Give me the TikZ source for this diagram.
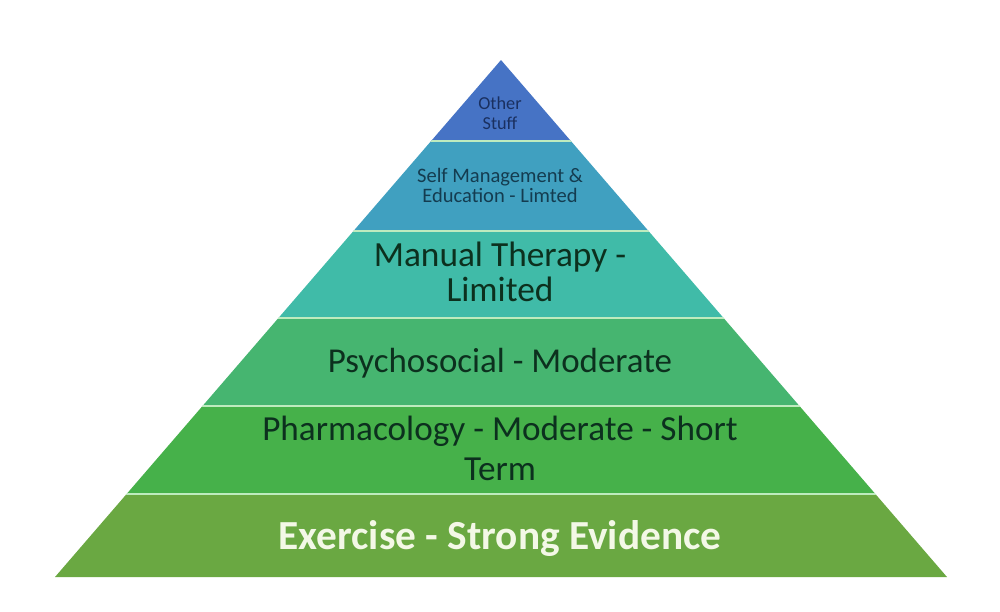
\documentclass[tikz,border=0pt]{standalone}
\usepackage{fontspec}
\setmainfont{Carlito}
\usepackage{tikz}

\definecolor{otherblue}{RGB}{70,115,197}
\definecolor{selfteal}{RGB}{64,160,192}
\definecolor{manualteal}{RGB}{64,187,168}
\definecolor{psychogreen}{RGB}{70,181,112}
\definecolor{pharmagreen}{RGB}{70,177,74}
\definecolor{exercisegreen}{RGB}{106,168,66}
\definecolor{darktext}{RGB}{12,48,30}
\definecolor{navytext}{RGB}{26,48,96}

\tikzset{
  band/.style={draw=none},
  sep/.style={draw={rgb,255:red,190;green,235;blue,190}, line width=2.2pt},
  label/.style={align=center, inner sep=0pt, text=darktext},
}

\begin{document}
\begin{tikzpicture}[x=0.75pt,y=0.75pt,yscale=-1,xscale=1]
\useasboundingbox (0,0) rectangle (1000,611);

\begin{scope}
% Shape: Triangle outline as clip
\clip (501,60) -- (947,577) -- (55,577) -- cycle;
% Shape: Bands
\fill[band, otherblue] (0,55) rectangle (1000,141);
\fill[band, selfteal] (0,141) rectangle (1000,231);
\fill[band, manualteal] (0,231) rectangle (1000,318);
\fill[band, psychogreen] (0,318) rectangle (1000,406);
\fill[band, pharmagreen] (0,406) rectangle (1000,494);
\fill[band, exercisegreen] (0,494) rectangle (1000,580);
% Straight Lines: separators
\foreach \yy in {141,231,318,406,494}
  \draw[sep] (0,\yy) -- (1000,\yy);
\end{scope}

% Text Node
\node[label, text=navytext, font=\fontsize{13.7}{15}\selectfont] (other) at (500,113) {Other\\Stuff};
% Text Node
\node[label, text={rgb,255:red,20;green,60;blue,80}, font=\fontsize{15.4}{15}\selectfont] (selfmgmt) at (500,185) {Self Management \&\\Education - Limted};
% Text Node
\node[label, font=\fontsize{26.5}{26}\selectfont] (manual) at (500,272) {Manual Therapy -\\Limited};
% Text Node
\node[label, font=\fontsize{26.2}{26}\selectfont] (psycho) at (500,363) {Psychosocial - Moderate};
% Text Node
\node[label, font=\fontsize{26.4}{30}\selectfont] (pharma) at (500,448) {Pharmacology - Moderate - Short\\Term};
% Text Node
\node[label, text={rgb,255:red,243;green,248;blue,230}, font=\fontsize{31}{30}\selectfont\bfseries] (exercise) at (500,538) {Exercise - Strong Evidence};

\end{tikzpicture}
\end{document}
